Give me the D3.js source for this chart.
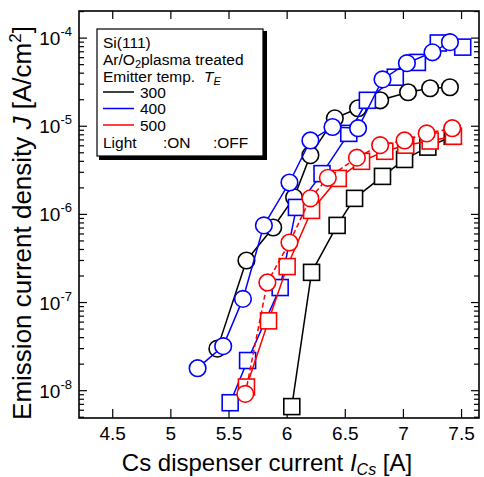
<!DOCTYPE html>
<html>
<head>
<meta charset="utf-8">
<script src="https://cdn.jsdelivr.net/npm/d3@7"></script>
<style>
  body { margin: 0; background: #fff; }
  svg { font-family: "Liberation Sans", Arial, sans-serif; }
</style>
</head>
<body>
<svg id="viz" width="484" height="477"></svg>
<script>
// data: Cs current [A] and emission current density [A/cm^2]
const x300on  = [5.40, 5.65, 5.88, 6.06, 6.20, 6.41, 6.61, 6.80, 7.04, 7.23, 7.40];
const y300on  = [3.0e-8, 3.0e-7, 7.1e-7, 1.56e-6, 4.7e-6, 1.23e-5, 1.6e-5, 1.97e-5, 2.43e-5, 2.7e-5, 2.77e-5];
const x300off = [6.04, 6.21, 6.43, 6.58, 6.82, 7.01, 7.21, 7.42];
const y300off = [6.6e-9, 2.2e-7, 7.5e-7, 1.52e-6, 2.7e-6, 4.2e-6, 5.8e-6, 7.7e-6];
const x400on  = [5.23, 5.45, 5.62, 5.80, 6.02, 6.20, 6.39, 6.61, 6.82, 7.03, 7.25, 7.40];
const y400on  = [1.8e-8, 3.2e-8, 1.1e-7, 7.5e-7, 2.3e-6, 6.9e-6, 9.8e-6, 9.5e-6, 3.4e-5, 5.2e-5, 6.9e-5, 9.0e-5];
const x400off = [5.51, 5.66, 5.94, 6.08, 6.30, 6.53, 6.69, 6.93, 7.12, 7.30, 7.51];
const y400off = [7.3e-9, 2.2e-8, 1.48e-7, 1.2e-6, 2.9e-6, 8.3e-6, 1.97e-5, 3.6e-5, 5.3e-5, 8.8e-5, 7.9e-5];
const x500on  = [5.64, 5.83, 6.02, 6.20, 6.35, 6.60, 6.80, 7.01, 7.20, 7.42];
const y500on  = [9.2e-9, 1.69e-7, 4.8e-7, 1.52e-6, 2.6e-6, 4.4e-6, 6.1e-6, 6.9e-6, 8.3e-6, 9.5e-6];
const x500off = [5.65, 5.84, 6.00, 6.21, 6.44, 6.64, 6.84, 7.02, 7.23, 7.43];
const y500off = [1.1e-8, 6.2e-8, 2.56e-7, 1.11e-6, 2.56e-6, 4.0e-6, 5.2e-6, 6.1e-6, 6.8e-6, 7.7e-6];

const xTicks = [4.5, 5, 5.5, 6, 6.5, 7, 7.5];
const yExps = [-4, -5, -6, -7, -8];
const tempLabels = ["300", "400", "500"];
const tempColors = ["#000000", "#0000ff", "#ff0000"];

const series = [
  {xs: x300off, ys: y300off, color: "#000", shape: "square", dash: null},
  {xs: x300on,  ys: y300on,  color: "#000", shape: "circle", dash: null},
  {xs: x400off, ys: y400off, color: "#00f", shape: "square", dash: null},
  {xs: x400on,  ys: y400on,  color: "#00f", shape: "circle", dash: null},
  {xs: x500off, ys: y500off, color: "#f00", shape: "square", dash: null},
  {xs: x500on,  ys: y500on,  color: "#f00", shape: "circle", dash: "5,3"}
];

// plot frame edges
const pL = 79, pR = 479, pT = 11, pB = 418;

const svg = d3.select("#viz");

const x = d3.scaleLinear().domain([4.21, 7.65]).range([pL, pR]);
const y = d3.scaleLog().domain([4.9e-9, 2.03e-4]).range([pB, pT]);

// minor + major ticks on log axis
const logTicks = [];
for (let e = -9; e <= -4; e++) {
  for (let m = 1; m <= 9; m++) {
    const v = m * Math.pow(10, e);
    if (v >= y.domain()[0] && v <= y.domain()[1]) logTicks.push({v: v, major: m === 1});
  }
}

const axes = svg.append("g");

// left & right tick marks (inward)
axes.selectAll(null).data(logTicks).enter().append("line")
  .attr("x1", pL).attr("x2", d => pL + (d.major ? 8 : 5))
  .attr("y1", d => y(d.v)).attr("y2", d => y(d.v))
  .attr("stroke", "#000").attr("stroke-width", 1.2);
axes.selectAll(null).data(logTicks).enter().append("line")
  .attr("x1", pR).attr("x2", d => pR - (d.major ? 8 : 5))
  .attr("y1", d => y(d.v)).attr("y2", d => y(d.v))
  .attr("stroke", "#000").attr("stroke-width", 1.2);

// bottom & top tick marks
axes.selectAll(null).data(xTicks).enter().append("line")
  .attr("x1", d => x(d)).attr("x2", d => x(d))
  .attr("y1", pB).attr("y2", pB - 9)
  .attr("stroke", "#000").attr("stroke-width", 1.2);
axes.selectAll(null).data(xTicks).enter().append("line")
  .attr("x1", d => x(d)).attr("x2", d => x(d))
  .attr("y1", pT).attr("y2", pT + 8)
  .attr("stroke", "#000").attr("stroke-width", 1.2);

// x tick labels
axes.selectAll(null).data(xTicks).enter().append("text")
  .attr("x", d => x(d)).attr("y", 440)
  .attr("text-anchor", "middle").attr("font-size", 19)
  .text(d => d);

// y tick labels 10^n
const yl = axes.selectAll(null).data(yExps).enter().append("text")
  .attr("x", 72).attr("y", d => y(Math.pow(10, d)) + 7)
  .attr("text-anchor", "end").attr("font-size", 19);
yl.append("tspan").text("10");
yl.append("tspan").attr("dy", -9).attr("font-size", 13).text(d => d);

// axis titles
svg.append("text")
  .attr("x", 267).attr("y", 471)
  .attr("text-anchor", "middle").attr("font-size", 24)
  .call(t => {
    t.append("tspan").text("Cs dispenser current ");
    t.append("tspan").attr("font-style", "italic").text("I");
    t.append("tspan").attr("font-style", "italic").attr("font-size", 16).attr("dy", 4).text("Cs");
    t.append("tspan").attr("dy", -4).text(" [A]");
  });

svg.append("text")
  .attr("transform", "translate(31,223) rotate(-90)")
  .attr("text-anchor", "middle").attr("font-size", 26)
  .call(t => {
    t.append("tspan").text("Emission current density ");
    t.append("tspan").attr("font-style", "italic").text("J");
    t.append("tspan").text(" [A/cm");
    t.append("tspan").attr("font-size", 17).attr("dy", -10).text("2");
    t.append("tspan").attr("dy", 10).text("]");
  });

// data
const plot = svg.append("g");
const line = d3.line().x(d => x(d[0])).y(d => y(d[1]));

series.forEach(s => {
  const pts = s.xs.map((v, i) => [v, s.ys[i]]);
  plot.append("path")
    .attr("d", line(pts))
    .attr("fill", "none")
    .attr("stroke", s.color)
    .attr("stroke-width", 1.5)
    .attr("stroke-dasharray", s.dash);
  if (s.shape === "circle") {
    plot.selectAll(null).data(pts).enter().append("circle")
      .attr("cx", d => x(d[0])).attr("cy", d => y(d[1]))
      .attr("r", 8.3)
      .attr("fill", "#fff").attr("stroke", s.color).attr("stroke-width", 1.6);
  } else {
    plot.selectAll(null).data(pts).enter().append("rect")
      .attr("x", d => x(d[0]) - 8).attr("y", d => y(d[1]) - 8)
      .attr("width", 16).attr("height", 16)
      .attr("fill", "#fff").attr("stroke", s.color).attr("stroke-width", 1.6);
  }
});

// frame
svg.append("rect")
  .attr("x", pL).attr("y", pT)
  .attr("width", pR - pL).attr("height", pB - pT)
  .attr("fill", "none").attr("stroke", "#000").attr("stroke-width", 1.6);

// legend
const lg = svg.append("g");
lg.append("rect").attr("x", 99).attr("y", 31).attr("width", 168).attr("height", 129).attr("fill", "#000");
lg.append("rect").attr("x", 97).attr("y", 29).attr("width", 166).attr("height", 127)
  .attr("fill", "#fff").attr("stroke", "#000").attr("stroke-width", 1.2);

const lx = 103, fs = 15.5;
lg.append("text").attr("x", lx).attr("y", 48).attr("font-size", fs).text("Si(111)");
lg.append("text").attr("x", lx).attr("y", 65).attr("font-size", fs)
  .call(t => {
    t.append("tspan").text("Ar/O");
    t.append("tspan").attr("font-size", 11).attr("dy", 3).text("2");
    t.append("tspan").attr("dy", -3).text("plasma treated");
  });
lg.append("text").attr("x", lx).attr("y", 82).attr("font-size", fs)
  .call(t => {
    t.append("tspan").text("Emitter temp.");
    t.append("tspan").attr("x", 204).attr("font-style", "italic").text("T");
    t.append("tspan").attr("font-style", "italic").attr("font-size", 11).attr("dy", 3).text("E");
  });

tempLabels.forEach((lab, i) => {
  const yy = 92 + i * 16.5;
  lg.append("line").attr("x1", lx).attr("x2", 134).attr("y1", yy).attr("y2", yy)
    .attr("stroke", tempColors[i]).attr("stroke-width", 1.5);
  lg.append("text").attr("x", 140).attr("y", yy + 5.5).attr("font-size", fs).text(lab);
});

lg.append("text").attr("x", lx).attr("y", 148).attr("font-size", fs).text("Light");
lg.append("text").attr("x", 163).attr("y", 148).attr("font-size", fs).text(":ON");
lg.append("text").attr("x", 213).attr("y", 148).attr("font-size", fs).text(":OFF");
</script>
</body>
</html>
